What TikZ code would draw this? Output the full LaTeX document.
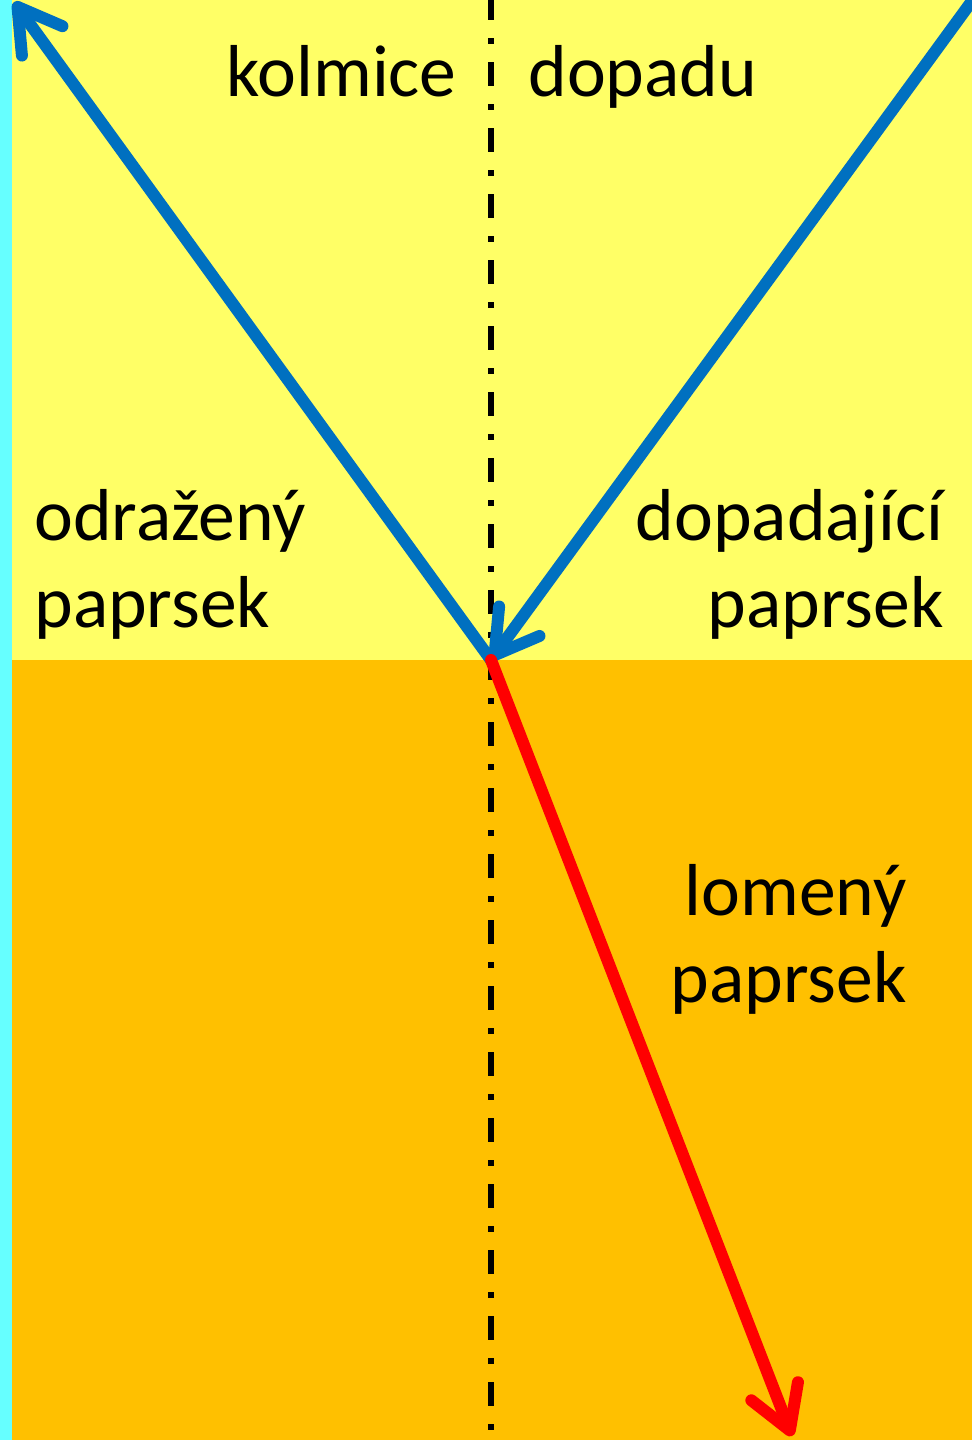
\documentclass[tikz,border=0pt]{standalone}
\usepackage{fontspec}
\setmainfont{Carlito}
\usetikzlibrary{arrows.meta}

\definecolor{airyellow}{RGB}{255,255,102}
\definecolor{glassorange}{RGB}{255,192,0}
\definecolor{edgecyan}{RGB}{102,255,255}
\definecolor{rayblue}{RGB}{0,112,192}

\begin{document}
\begin{tikzpicture}[x=0.5pt, y=-0.5pt,
    ray/.style={line width=6pt, line cap=round, -{Straight Barb[length=21pt, width=25pt, round]}},
    raytext/.style={font=\fontsize{36.8}{43.5}\selectfont, inner sep=0pt}]
    \useasboundingbox (0,0) rectangle (972,1440);

    % media
    \fill[edgecyan] (0,0) rectangle (12,1440);
    \fill[airyellow] (12,0) rectangle (972,660);
    \fill[glassorange] (12,660) rectangle (972,1440);

    % points of the rays
    \coordinate (O) at (491,660);
    \coordinate (S) at (980,-10);
    \coordinate (R) at (14,2);
    \coordinate (T) at (792,1436);
    \coordinate (N1) at (491,0);
    \coordinate (N2) at (491,1440);

    % normal
    \draw[line width=3pt, dash pattern=on 12pt off 9pt on 3pt off 9pt, dash phase=2pt] (N1) -- (N2);

    \node[raytext, anchor=base east] (kolmice) at (457,96) {kolmice};
    \node[raytext, anchor=base west] (dopadu) at (528,96) {dopadu};

    \node[raytext, anchor=base west, align=left] (odrazeny) at (34,627) {odražený\\paprsek};
    \node[raytext, anchor=base east, align=right] (dopadajici) at (944,627) {dopadající\\paprsek};
    \node[raytext, anchor=base east, align=right] (lomeny) at (907,1002) {lomený\\paprsek};

    % rays
    \begin{scope}
        \clip (0,0) rectangle (972,1440);
        \draw[ray, rayblue] (O) -- (R);
        \draw[ray, rayblue] (S) -- (O);
        \draw[ray, red] (O) -- (T);
    \end{scope}
\end{tikzpicture}
\end{document}
